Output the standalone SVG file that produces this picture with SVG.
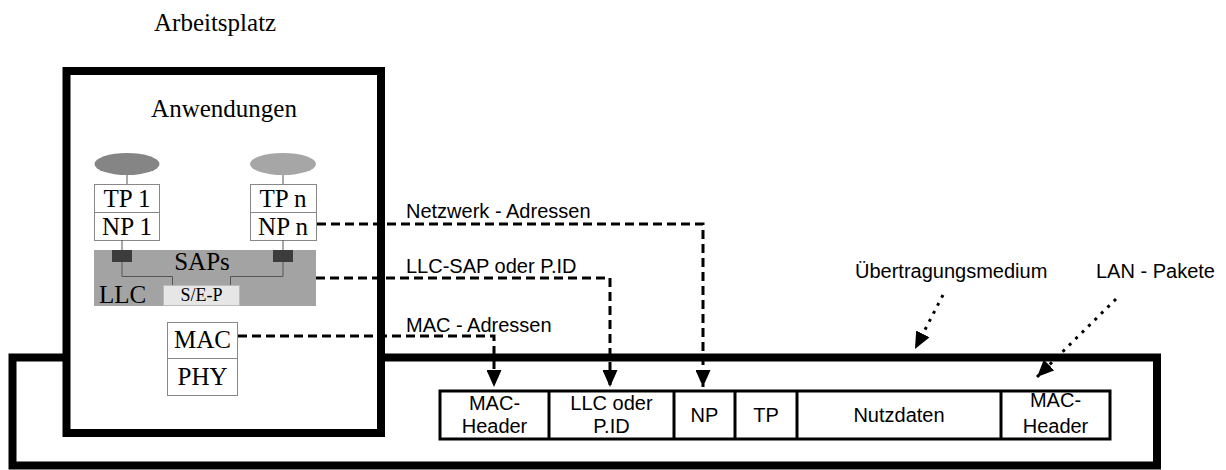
<svg xmlns="http://www.w3.org/2000/svg" width="1226" height="470" viewBox="0 0 1226 470">
  <defs>
    <style>
      .serif { font-family: "Liberation Serif", "Times New Roman", serif; font-size: 25px; fill: #000; }
      .sans { font-family: "Liberation Sans", Arial, sans-serif; font-size: 20px; fill: #000; }
      .thick { fill: none; stroke: #000; stroke-width: 8; }
      .cell { fill: #fff; stroke: #000; stroke-width: 3; }
      .layer { fill: #fff; stroke: #888; stroke-width: 1; }
      .tie { fill: none; stroke: #555; stroke-width: 1; }
      .dash { fill: none; stroke: #000; stroke-width: 3; stroke-dasharray: 9 5; }
      .dot { fill: none; stroke: #000; stroke-width: 3; stroke-dasharray: 3 6; }
    </style>
    <marker id="head" markerUnits="userSpaceOnUse" viewBox="0 0 17 15" refX="17" refY="7.5" markerWidth="17" markerHeight="15" orient="auto">
      <path d="M0,0 L17,7.5 L0,15 z" fill="#000"/>
    </marker>
  </defs>

  <rect width="1226" height="470" fill="#fff"/>

  <!-- transmission medium -->
  <g id="medium">
    <rect class="thick" x="12.5" y="357.5" width="1144.5" height="108"/>
  </g>

  <!-- workstation with its protocol stack -->
  <g id="arbeitsplatz">
    <text class="serif" x="154" y="31">Arbeitsplatz</text>
    <rect x="66.5" y="71" width="314.5" height="362" fill="#fff" stroke="#000" stroke-width="8"/>
    <text class="serif" x="224" y="117" text-anchor="middle">Anwendungen</text>
  </g>

  <g id="app1">
    <ellipse cx="127" cy="164" rx="32.5" ry="11" fill="#858585"/>
    <line class="tie" x1="127" y1="175" x2="127" y2="184"/>
  </g>
  <g id="appn">
    <ellipse cx="283" cy="164" rx="33" ry="11" fill="#a6a6a6"/>
    <line class="tie" x1="283" y1="175" x2="283" y2="184"/>
  </g>

  <g id="stack1">
    <rect class="layer" x="94.5" y="184.5" width="65" height="28"/>
    <rect class="layer" x="94.5" y="212.5" width="65" height="28"/>
    <text class="serif" x="127" y="207" text-anchor="middle">TP 1</text>
    <text class="serif" x="127" y="235" text-anchor="middle">NP 1</text>
  </g>
  <g id="stackn">
    <rect class="layer" x="250.5" y="184.5" width="66" height="28"/>
    <rect class="layer" x="250.5" y="212.5" width="66" height="28"/>
    <text class="serif" x="283" y="207" text-anchor="middle">TP n</text>
    <text class="serif" x="283" y="235" text-anchor="middle">NP n</text>
  </g>

  <g id="llc">
    <line class="tie" x1="122" y1="240" x2="122" y2="250"/>
    <line class="tie" x1="283" y1="240" x2="283" y2="250"/>
    <rect x="94" y="250" width="222" height="56" fill="#a3a3a3"/>
    <rect x="112" y="250" width="20" height="12" fill="#3c3c3c"/>
    <rect x="273" y="250" width="20" height="12" fill="#3c3c3c"/>
    <polyline class="tie" points="122,262 122,276.5 172.5,276.5 172.5,285"/>
    <polyline class="tie" points="283,262 283,276.5 230.5,276.5 230.5,285"/>
    <text class="serif" x="202" y="270" text-anchor="middle">SAPs</text>
    <text class="serif" x="99" y="303">LLC</text>
    <rect x="163.5" y="285.5" width="76" height="20" fill="#e6e6e6" stroke="#bbb" stroke-width="1"/>
    <text class="serif" x="201.5" y="301" text-anchor="middle" style="font-size:18px">S/E-P</text>
  </g>

  <g id="mac">
    <rect class="layer" x="167.5" y="322.5" width="70" height="36"/>
    <rect class="layer" x="167.5" y="358.5" width="70" height="37"/>
    <text class="serif" x="202.5" y="348" text-anchor="middle">MAC</text>
    <text class="serif" x="202.5" y="385" text-anchor="middle">PHY</text>
  </g>

  <!-- LAN packet -->
  <g id="paket">
    <rect class="cell" x="440" y="391" width="670" height="48"/>
    <line class="cell" x1="549" y1="391" x2="549" y2="439"/>
    <line class="cell" x1="674" y1="391" x2="674" y2="439"/>
    <line class="cell" x1="735" y1="391" x2="735" y2="439"/>
    <line class="cell" x1="797" y1="391" x2="797" y2="439"/>
    <line class="cell" x1="1001" y1="391" x2="1001" y2="439"/>
    <text class="sans" x="494.5" y="410" text-anchor="middle">MAC-</text>
    <text class="sans" x="494.5" y="433" text-anchor="middle">Header</text>
    <text class="sans" x="611.5" y="410" text-anchor="middle">LLC oder</text>
    <text class="sans" x="611.5" y="433" text-anchor="middle">P.ID</text>
    <text class="sans" x="704.5" y="422" text-anchor="middle">NP</text>
    <text class="sans" x="766" y="422" text-anchor="middle">TP</text>
    <text class="sans" x="899" y="422" text-anchor="middle">Nutzdaten</text>
    <text class="sans" x="1055.5" y="407" text-anchor="middle">MAC-</text>
    <text class="sans" x="1055.5" y="433" text-anchor="middle">Header</text>
  </g>

  <!-- address mappings and pointers -->
  <g id="connectors">
    <path class="dash" d="M317,224 H703 V387" marker-end="url(#head)"/>
    <path class="dash" d="M316,278 H610 V387" marker-end="url(#head)"/>
    <path class="dash" d="M238,336 H494 V387" marker-end="url(#head)"/>
    <path class="dot" d="M943,295 L915,349" marker-end="url(#head)"/>
    <path class="dot" d="M1116,299 L1037,377" marker-end="url(#head)"/>
  </g>

  <g id="labels">
    <text class="sans" x="406" y="218">Netzwerk - Adressen</text>
    <text class="sans" x="406" y="273">LLC-SAP oder P.ID</text>
    <text class="sans" x="406" y="332">MAC - Adressen</text>
    <text class="sans" x="855" y="278">Übertragungsmedium</text>
    <text class="sans" x="1096" y="278">LAN - Pakete</text>
  </g>
</svg>
